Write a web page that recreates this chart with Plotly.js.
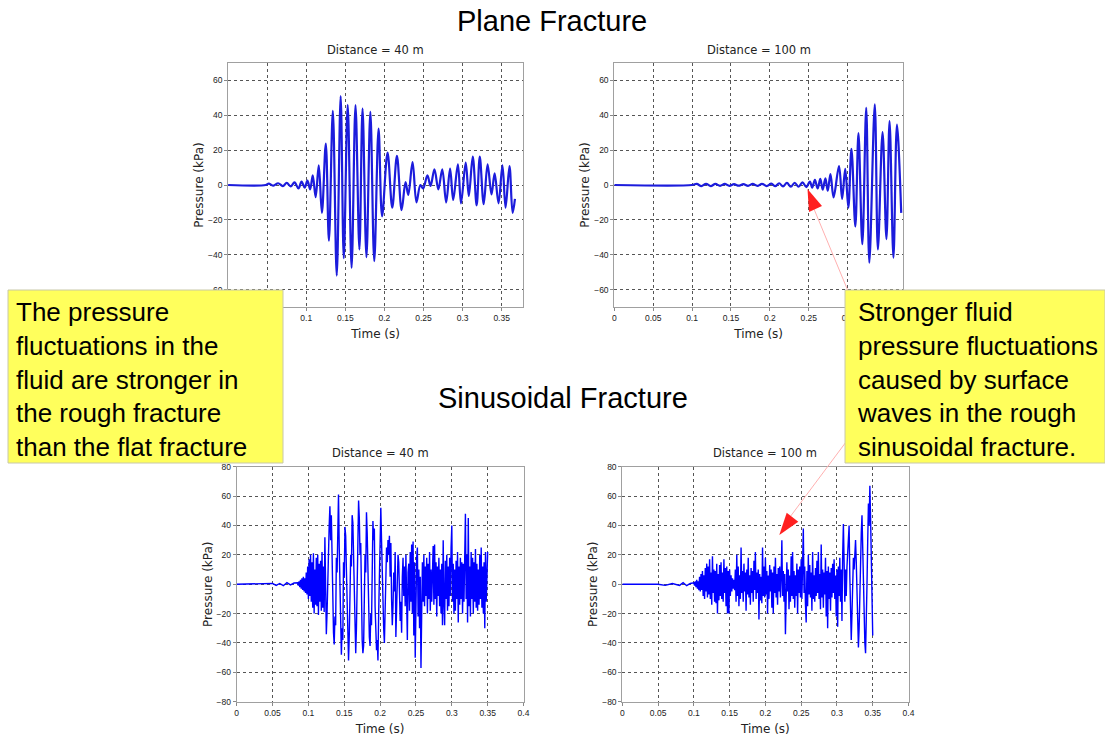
<!DOCTYPE html>
<html>
<head>
<meta charset="utf-8">
<script src="https://cdn.plot.ly/plotly-3.0.1.min.js"></script>
<style>
html,body{margin:0;padding:0;background:#fff;}
#chart{width:1105px;height:737px;}
</style>
</head>
<body>
<div id="chart"></div>
<script>
// ---------------- DATA ----------------
// Plane fracture, distance = 40 m (extrema)
const planeNearT = [
  0, 0.048, 0.052, 0.058, 0.064, 0.07, 0.075, 0.08, 0.085, 0.09,
  0.094, 0.098, 0.1015, 0.105, 0.1083, 0.112, 0.116, 0.120, 0.125, 0.129,
  0.134, 0.139, 0.144, 0.148, 0.153, 0.158, 0.163, 0.168, 0.172, 0.177,
  0.182, 0.187, 0.1925, 0.197, 0.204, 0.210, 0.216, 0.222, 0.227, 0.2305,
  0.236, 0.241, 0.246, 0.2495, 0.255, 0.259, 0.264, 0.269, 0.274, 0.279,
  0.284, 0.288, 0.294, 0.298, 0.304, 0.308, 0.313, 0.318, 0.322, 0.327,
  0.332, 0.337, 0.341, 0.346, 0.351, 0.355, 0.360, 0.364, 0.367
];
const planeNearP = [
  0, 0, 0.8, -0.4, 1, -0.6, 1.2, -0.8, 1.5, -2,
  2, -1.5, 2.5, -2.5, 5.6, -6.9, 11.3, -16, 23.8, -32,
  42.5, -52, 51, -42, 46, -47.5, 45.8, -37, 43.9, -41.4,
  42, -43.7, 32.4, -18, 18.6, -13, 16.7, -14.4, 1.7, -5.7,
  13.2, -10, 0, -2, 5.6, -0.5, 9, -2.5, 9, -10,
  9.4, -8.6, 11.9, -10.5, 12.8, -6.3, 16.3, -11.7, 16.3, -11,
  11.9, -5.4, 6.7, -10.5, 11.3, -13, 10.9, -16, -7.9
];

// Plane fracture, distance = 100 m
const planeFarT = [
  0, 0.1, 0.106, 0.112, 0.118, 0.124, 0.13, 0.136, 0.142, 0.148,
  0.154, 0.16, 0.166, 0.172, 0.178, 0.184, 0.19, 0.196, 0.202, 0.207,
  0.212, 0.217, 0.222, 0.227, 0.232, 0.237, 0.242, 0.247, 0.2515, 0.2545,
  0.258, 0.2615, 0.265, 0.268, 0.2715, 0.2745, 0.278, 0.282, 0.289, 0.293,
  0.297, 0.301, 0.305, 0.310, 0.314, 0.319, 0.324, 0.328, 0.335, 0.339,
  0.345, 0.350, 0.354, 0.359, 0.3635, 0.369
];
const planeFarP = [
  0, 0, 0.6, -0.6, 0.7, -0.6, 0.6, -0.5, 0.6, -0.5,
  0.5, -0.4, 0.5, -0.5, 0.6, -0.5, 0.7, -0.6, 0.8, -0.7,
  1, -0.8, 1.2, -1, 1.3, -1, 1.5, -1.2, 2, -1.5,
  3, -2, 3.5, -2.7, 3.8, -3.3, 6.3, -7.1, 10.8, -8,
  9.2, -13, 20.8, -23.8, 29.8, -34, 44.2, -44.6, 46.3, -37,
  30.4, -31, 36.7, -41.7, 34.6, -16
];

// Sinusoidal fracture, distance = 40 m : quiet lead-in, then samples every 1 ms from 0.085 s
const sinNearLeadT = [0, 0.04, 0.05, 0.055, 0.06, 0.065, 0.07, 0.075, 0.08];
const sinNearLeadP = [0, 0, 0.5, -0.8, 0.5, -1, 1, -0.5, 0.8];
const sinNearStart = 0.085, sinNearStep = 0.001;
const sinNearP = [
  1, -1, 2, -2, 3, -3, 4, -4, 5, -5,
  4, -6, 8, -7, 12, -10, 17, -8, 20, -12,
  15, -16, 21, -20, 10, -14, 18, -15, 20, -21,
  14, -12, 16, -18, 22, -16, 12, -19, 32, -8,
  -34, -20, 5, 25, 40, 53, 30, 47, 10, -25,
  -33, -41, -22, -28, 18, 8, 48, 61, 25, -10,
  -35, -48, -30, -38, 15, 5, 39, 33, 10, -20,
  -38, -52, -35, -15, 20, 12, 47, 42, 15, -15,
  -35, -47, -30, -8, 30, 57, 45, 20, 28, -20,
  -38, -47, -42, -10, 20, 8, 49, 35, 5, -25,
  -36, -42, -20, -28, 25, 43, 30, 38, -15, -30,
  -45, -38, -52, -20, 15, 40, 52, 30, 5, -20,
  -30, -40, -15, 10, 25, 15, 30, 20, 33, 5,
  28, -10, -28, -15, 8, -5, 22, -36, -20, 10,
  20, 15, -5, -25, -12, -33, 5, 18, -8, 12,
  -15, 20, -10, -38, 8, 14, -18, 22, -12, 27,
  -20, 29, -35, 15, -50, -10, 18, 25, -22, 10,
  -30, 5, -57, -20, 15, -12, 20, -15, 12, -8,
  18, -20, 14, -10, 22, -18, 10, -12, 16, 26,
  -14, 27, -10, 15, -22, 12, -8, 18, -15, 10,
  -20, 14, -28, 30, -12, -28, 16, -10, 20, -18,
  12, -15, 18, -8, 25, 40, -12, 14, -20, 10,
  -18, 16, -10, 22, -26, 12, -14, 18, -10, 15,
  -20, 14, -12, 28, 48, -10, 20, -26, 45, -15,
  12, -22, 22, -10, 18, -20, 15, -12, 24, -16,
  14, -18, 10, -14, 20, -10, 25, -16, 12, -20,
  15, -30, 22, -12, 18, 22
];

// Sinusoidal fracture, distance = 100 m : quiet lead-in, then samples every 1 ms from 0.100 s
const sinFarLeadT = [0, 0.05, 0.06, 0.07, 0.08, 0.085, 0.09, 0.095];
const sinFarLeadP = [0, 0, -0.8, 0.5, -0.8, 1, -1, 0.5];
const sinFarStart = 0.1, sinFarStep = 0.001;
const sinFarP = [
  1, -1, 2, -2, 3, -3, 2, -4, 5, -5,
  7, -4, 9, -8, 6, -10, 11, -5, 14, -9,
  12, -7, 17, -10, 8, -14, 19, -6, 10, -12,
  9, -13, 14, -20, 7, -11, 13, -8, 15, -10,
  8, -12, 17, -6, 11, -15, 12, -20, 9, -20,
  10, -8, 6, -5, 4, -3, 3, -4, 10, -12,
  20, -8, 12, -15, 6, -10, 25, -6, 9, -12,
  14, -5, 8, -18, 10, -7, 18, -9, 6, -14,
  11, -6, 9, -12, 16, -4, 22, -10, 8, -6,
  10, -24, 7, -11, 5, -13, 25, -8, 12, -9,
  18, -7, 9, -20, 6, -10, 13, -5, 10, -16,
  8, -20, 12, -6, 18, -9, 7, -14, 11, -5,
  12, -9, 6, 30, -8, 9, -12, 7, -34, -6,
  15, -5, 10, -17, 6, -12, 19, -8, 22, -10,
  9, -16, 6, -8, 14, -20, 10, -6, 12, -9,
  17, -10, 8, 38, -6, 12, -14, -26, 9, -15,
  20, -7, 13, -9, 8, -18, 22, -10, 6, -12,
  11, -8, 16, -6, 22, -10, 7, -17, 27, -9,
  10, -16, 8, -7, 18, -22, 9, -30, 12, -10,
  8, -18, 11, -9, 14, -6, 17, -10, 6, -22,
  10, -29, 12, -8, 18, -12, 10, -25, 20, 41,
  15, -12, 10, -8, 12, 25, 35, 40, 5, -20,
  -38, -20, 5, 18, 10, 25, 30, 15, -10, -30,
  -43, -30, 0, 20, 35, 47, 25, -10, -30, -40,
  -47, -30, 0, 30, 55, 40, 67, 45, 10, -20,
  -35
];

// Tick labels
const timeTickVals = [0, 0.05, 0.1, 0.15, 0.2, 0.25, 0.3, 0.35, 0.4];
const timeTickText = ['0', '0.05', '0.1', '0.15', '0.2', '0.25', '0.3', '0.35', '0.4'];
const planeFarTickCount = 7; // labels beyond 0.3 s are covered by the note box
const planePTicks = [-60, -40, -20, 0, 20, 40, 60];
const sinPTicks = [-80, -60, -40, -20, 0, 20, 40, 60, 80];

// ---------------- LAYOUT HELPERS ----------------
const W = 1105, H = 737;
const fx = px => px / W;
const fy = py => 1 - py / H;

function sampled(leadT, leadP, start, step, vals) {
  const t = leadT.slice();
  vals.forEach((v, i) => t.push(+(start + i * step).toFixed(4)));
  return {x: t, y: leadP.concat(vals)};
}
const sinNear = sampled(sinNearLeadT, sinNearLeadP, sinNearStart, sinNearStep, sinNearP);
const sinFar = sampled(sinFarLeadT, sinFarLeadP, sinFarStart, sinFarStep, sinFarP);

const tickFont = {family: 'Liberation Sans, Arial, sans-serif', size: 8.5, color: '#222'};
const titleFont = {family: 'DejaVu Sans, sans-serif', size: 12, color: '#222'};

function xAxis(rect, range, anchor, nTicks) {
  return {
    domain: [fx(rect[0]), fx(rect[2])], range: range, anchor: anchor,
    tickvals: timeTickVals.slice(0, nTicks), ticktext: timeTickText.slice(0, nTicks),
    showgrid: true, gridcolor: '#555', griddash: 'dot', gridwidth: 1,
    showline: true, mirror: true, linecolor: '#a0a0a0', linewidth: 1,
    ticks: 'outside', ticklen: 3, tickcolor: '#888', zeroline: false,
    tickfont: tickFont,
    title: {text: 'Time (s)', font: titleFont, standoff: 7}
  };
}
function yAxis(rect, range, ticks, anchor) {
  return {
    domain: [fy(rect[3]), fy(rect[1])], range: range, anchor: anchor,
    tickvals: ticks,
    showgrid: true, gridcolor: '#555', griddash: 'dot', gridwidth: 1,
    showline: true, mirror: true, linecolor: '#a0a0a0', linewidth: 1,
    ticks: 'outside', ticklen: 3, tickcolor: '#888', zeroline: false,
    tickfont: tickFont,
    title: {text: 'Pressure (kPa)', font: titleFont, standoff: 1}
  };
}

// plot rectangles in px: [left, top, right, bottom]
const rTL = [228.1, 63, 523, 307];
const rTR = [614.3, 63, 903, 307];
const rBL = [236.7, 466.7, 523.5, 701.7];
const rBR = [622.3, 466.7, 908.5, 701.7];

const traces = [
  {x: planeNearT, y: planeNearP, xaxis: 'x', yaxis: 'y', mode: 'lines',
   line: {color: '#1c1cdc', width: 2.2, shape: 'spline', smoothing: 1}},
  {x: planeFarT, y: planeFarP, xaxis: 'x2', yaxis: 'y2', mode: 'lines',
   line: {color: '#1c1cdc', width: 2.2, shape: 'spline', smoothing: 1}},
  {x: sinNear.x, y: sinNear.y, xaxis: 'x3', yaxis: 'y3', mode: 'lines',
   line: {color: '#0000ff', width: 1.4}},
  {x: sinFar.x, y: sinFar.y, xaxis: 'x4', yaxis: 'y4', mode: 'lines',
   line: {color: '#0000ff', width: 1.4}}
];

function tri(pts) {
  return 'M ' + pts.map(p => fx(p[0]) + ' ' + fy(p[1])).join(' L ') + ' Z';
}

const boxText = {family: 'Liberation Sans, Arial, sans-serif', size: 26, color: '#000'};
const subTitle = {family: 'DejaVu Sans, sans-serif', size: 11.5, color: '#222'};
const bigTitle = {family: 'Liberation Sans, Arial, sans-serif', size: 29, color: '#000'};

const layout = {
  width: W, height: H,
  margin: {l: 0, r: 0, t: 0, b: 0},
  paper_bgcolor: '#fff', plot_bgcolor: '#fff',
  showlegend: false,
  xaxis: xAxis(rTL, [0, 0.3773], 'y', 8),
  yaxis: yAxis(rTL, [-70, 70], planePTicks, 'x'),
  xaxis2: xAxis(rTR, [0, 0.3713], 'y2', planeFarTickCount),
  yaxis2: yAxis(rTR, [-70, 70], planePTicks, 'x2'),
  xaxis3: xAxis(rBL, [0, 0.4], 'y3', 9),
  yaxis3: yAxis(rBL, [-80, 80], sinPTicks, 'x3'),
  xaxis4: xAxis(rBR, [0, 0.4], 'y4', 9),
  yaxis4: yAxis(rBR, [-80, 80], sinPTicks, 'x4'),
  shapes: [
    {type: 'line', xref: 'paper', yref: 'paper', x0: fx(814), y0: fy(209), x1: fx(848), y1: fy(291),
     line: {color: '#ffb0b0', width: 1}, layer: 'above'},
    {type: 'line', xref: 'paper', yref: 'paper', x0: fx(790), y0: fy(517), x1: fx(846), y1: fy(442),
     line: {color: '#ffb0b0', width: 1}, layer: 'above'},
    {type: 'path', xref: 'paper', yref: 'paper', path: tri([[807.5, 189], [809, 212], [822, 206]]),
     fillcolor: '#ff2020', line: {width: 0}, layer: 'above'},
    {type: 'path', xref: 'paper', yref: 'paper', path: tri([[779.3, 535], [786.7, 512.7], [798.3, 521.7]]),
     fillcolor: '#ff2020', line: {width: 0}, layer: 'above'},
    {type: 'rect', xref: 'paper', yref: 'paper', x0: fx(8), x1: fx(283), y0: fy(463), y1: fy(290),
     fillcolor: '#ffff5c', line: {color: '#c8c8a8', width: 1}, layer: 'above'},
    {type: 'rect', xref: 'paper', yref: 'paper', x0: fx(845), x1: fx(1105), y0: fy(463), y1: fy(290),
     fillcolor: '#ffff5c', line: {color: '#c8c8a8', width: 1}, layer: 'above'}
  ],
  annotations: [
    {text: 'Plane Fracture', xref: 'paper', yref: 'paper', x: fx(552), y: fy(21),
     xanchor: 'center', yanchor: 'middle', showarrow: false, font: bigTitle},
    {text: 'Sinusoidal Fracture', xref: 'paper', yref: 'paper', x: fx(563), y: fy(398),
     xanchor: 'center', yanchor: 'middle', showarrow: false, font: bigTitle},
    {text: 'Distance = 40 m', xref: 'paper', yref: 'paper', x: fx((rTL[0] + rTL[2]) / 2), y: fy(50),
     xanchor: 'center', yanchor: 'middle', showarrow: false, font: subTitle},
    {text: 'Distance = 100 m', xref: 'paper', yref: 'paper', x: fx((rTR[0] + rTR[2]) / 2), y: fy(50),
     xanchor: 'center', yanchor: 'middle', showarrow: false, font: subTitle},
    {text: 'Distance = 40 m', xref: 'paper', yref: 'paper', x: fx((rBL[0] + rBL[2]) / 2), y: fy(453),
     xanchor: 'center', yanchor: 'middle', showarrow: false, font: subTitle},
    {text: 'Distance = 100 m', xref: 'paper', yref: 'paper', x: fx((rBR[0] + rBR[2]) / 2), y: fy(453),
     xanchor: 'center', yanchor: 'middle', showarrow: false, font: subTitle},
    {text: 'The pressure<br>fluctuations in the<br>fluid are stronger in<br>the rough fracture<br>than the flat fracture',
     xref: 'paper', yref: 'paper', x: fx(14), y: fy(379), xanchor: 'left', yanchor: 'middle',
     align: 'left', showarrow: false, font: boxText},
    {text: 'Stronger fluid<br>pressure fluctuations<br>caused by surface<br>waves in the rough<br>sinusoidal fracture.',
     xref: 'paper', yref: 'paper', x: fx(855), y: fy(379), xanchor: 'left', yanchor: 'middle',
     align: 'left', showarrow: false, font: boxText}
  ]
};

Plotly.newPlot('chart', traces, layout, {staticPlot: true, displayModeBar: false});
</script>
</body>
</html>
